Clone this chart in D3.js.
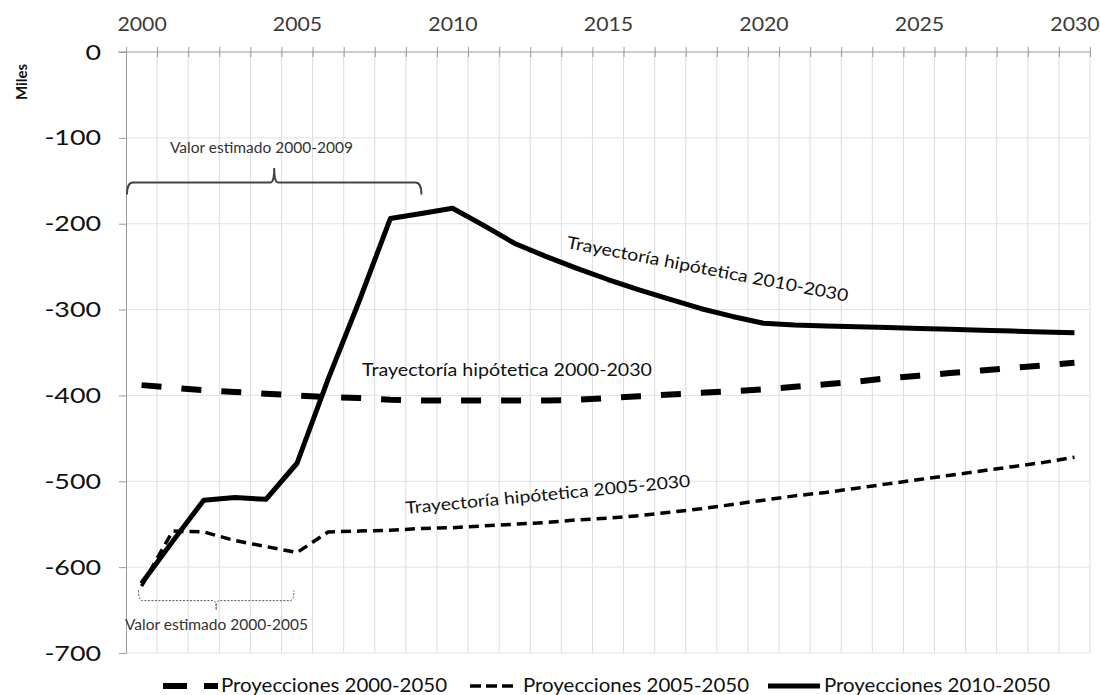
<!DOCTYPE html>
<html><head><meta charset="utf-8">
<script src="https://cdn.jsdelivr.net/npm/d3@7"></script>
<style>
body{margin:0;background:#fff}
svg{display:block}
text{font-family:Lato,"Open Sans",sans-serif}
</style>
</head><body>
<svg id="c" width="1100" height="695"></svg>
<script>
const years = [2000,2001,2002,2003,2004,2005,2006,2007,2008,2009,2010,2011,2012,2013,2014,2015,
  2016,2017,2018,2019,2020,2021,2022,2023,2024,2025,2026,2027,2028,2029,2030];
const yearLabels = [2000,2005,2010,2015,2020,2025,2030];
const yTicks = [0,-100,-200,-300,-400,-500,-600,-700];

const proy2000 = [-388,-391,-394,-396,-398,-400,-402,-403,-405,-406,
  -406,-406,-406,-406,-405,-403,-401,-399,-397,-395,
  -393,-390,-387,-384,-380,-377,-374,-371,-368,-365,-362];
const proy2005 = [-622,-558,-559,-569,-576,-583,-559,-558,-557,-555,
  -554,-552,-550,-548,-545,-543,-540,-536,-532,-527,
  -522,-517,-513,-508,-503,-498,-493,-488,-483,-478,-472];
const proy2010 = [-619,-570,-522,-519,-521,-479,-381,-290,-194,-188,
  -182,-202,-223,-238,-252,-265,-277,-288,-299,-308,
  -316,-318,-319,-320,-321,-322,-323,-324,-325,-326,-327];

const seriesNames = ["Proyecciones 2000-2050","Proyecciones 2005-2050","Proyecciones 2010-2050"];

const svg = d3.select("#c");
const L = 126, R = 1090, T = 52, B = 653;

const x = d3.scaleLinear().domain([1999.5, 2030.5]).range([L, R]);
const y = d3.scaleLinear().domain([-700, 0]).range([B, T]);
const boundaries = years.map(v => v - 0.5).concat([2030.5]);

// gridlines
svg.append("g").selectAll("line").data(boundaries.slice(1)).join("line")
  .attr("x1", d => x(d)).attr("x2", d => x(d)).attr("y1", T).attr("y2", B)
  .attr("stroke", "#dcdcdc").attr("stroke-width", 1);
svg.append("g").selectAll("line").data(yTicks.slice(1)).join("line")
  .attr("x1", L).attr("x2", R).attr("y1", d => y(d)).attr("y2", d => y(d))
  .attr("stroke", "#e2e2e2").attr("stroke-width", 1);

// top axis (ticks at category boundaries, crossing)
const topAxis = svg.append("g").attr("transform", `translate(0,${T})`)
  .call(d3.axisTop(x).tickValues(boundaries).tickFormat("").tickSizeInner(5).tickSizeOuter(0));
topAxis.select(".domain").attr("stroke", "#9a9a9a").attr("d", `M${L - 8},0H${R}`);
topAxis.selectAll(".tick line").attr("y1", 5).attr("y2", -5).attr("stroke", "#9a9a9a");

const topLabels = svg.append("g").attr("transform", `translate(0,${T})`)
  .call(d3.axisTop(x).tickValues(yearLabels).tickFormat(d3.format("d")).tickSize(0).tickPadding(21));
topLabels.select(".domain").remove();
topLabels.selectAll("text").attr("font-family", "Lato").attr("font-size", 19).attr("fill", "#3a3a3a")
  .attr("y", null).attr("transform", "translate(0,-21) scale(1.12,1)");

// left axis
const leftAxis = svg.append("g").attr("transform", `translate(${L},0)`)
  .call(d3.axisLeft(y).tickValues(yTicks).tickFormat(d3.format("d")).tickSizeInner(7).tickSizeOuter(0).tickPadding(19));
leftAxis.select(".domain").attr("stroke", "#9a9a9a");
leftAxis.selectAll(".tick line").attr("stroke", "#9a9a9a");
leftAxis.selectAll("text").attr("font-family", "Lato").attr("font-size", 22).attr("fill", "#111")
  .attr("x", null).attr("transform", "translate(-25,0) scale(1.22,1)")
  .text(d => d < 0 ? "-" + Math.abs(d) : d);

svg.append("text").attr("transform", "translate(27,82) rotate(-90)")
  .attr("text-anchor", "middle").attr("font-size", 15).attr("font-weight", "bold").attr("fill", "#111")
  .text("Miles");

// lines
const line = data => d3.line().x((d, i) => x(years[i])).y(d => y(d))(data);
svg.append("path").attr("d", line(proy2005)).attr("fill", "none").attr("stroke", "#000")
  .attr("stroke-width", 3.5).attr("stroke-dasharray", "10,6").attr("stroke-linejoin", "round");
svg.append("path").attr("d", line(proy2000)).attr("fill", "none").attr("stroke", "#000")
  .attr("stroke-width", 6).attr("stroke-dasharray", "20,20").attr("stroke-linejoin", "round");
svg.append("path").attr("d", line(proy2010)).attr("fill", "none").attr("stroke", "#000")
  .attr("stroke-width", 5).attr("stroke-linejoin", "round");

// brace annotations
const bx0 = x(1999.5) + 1, bx1 = x(2009), bxm = (bx0 + bx1) / 2;
const by = y(-152), byEnd = y(-166), byPeak = y(-135);
svg.append("path")
  .attr("d", `M${bx0},${byEnd} Q${bx0},${by} ${bx0 + 6},${by} L${bxm - 4},${by} Q${bxm},${by} ${bxm},${byPeak} Q${bxm},${by} ${bxm + 4},${by} L${bx1 - 6},${by} Q${bx1},${by} ${bx1},${byEnd}`)
  .attr("fill", "none").attr("stroke", "#444").attr("stroke-width", 2);
svg.append("text").attr("x", 170).attr("y", 153)
  .attr("font-size", 14.5).attr("fill", "#333")
  .attr("textLength", 183).attr("lengthAdjust", "spacingAndGlyphs")
  .text("Valor estimado 2000-2009");

const cx0 = x(1999.9), cx1 = x(2004.9), cxm = (cx0 + cx1) / 2;
const cy = y(-639), cyEnd = y(-627), cyTip = y(-650);
svg.append("path")
  .attr("d", `M${cx0},${cyEnd} Q${cx0},${cy} ${cx0 + 4},${cy} L${cxm - 3},${cy} Q${cxm},${cy} ${cxm},${cyTip} Q${cxm},${cy} ${cxm + 3},${cy} L${cx1 - 4},${cy} Q${cx1},${cy} ${cx1},${cyEnd}`)
  .attr("fill", "none").attr("stroke", "#555").attr("stroke-width", 1).attr("stroke-dasharray", "2,1.5");
svg.append("text").attr("x", 125).attr("y", 630)
  .attr("font-size", 14.5).attr("fill", "#333")
  .attr("textLength", 183).attr("lengthAdjust", "spacingAndGlyphs")
  .text("Valor estimado 2000-2005");

// trajectory labels
const trajLabels = [
  {t: "Trayectoría hipótetica  2010-2030", tr: "translate(566,248) rotate(10.8)", len: 286},
  {t: "Trayectoría hipótetica  2000-2030", tr: "translate(362,376)", len: 290},
  {t: "Trayectoría hipótetica  2005-2030", tr: "translate(406,514) rotate(-5.5)", len: 286}
];
trajLabels.forEach(d => {
  svg.append("text").attr("transform", d.tr).attr("font-size", 17).attr("fill", "#111")
    .attr("textLength", d.len).attr("lengthAdjust", "spacingAndGlyphs").text(d.t);
});

// legend
const legend = [
  {name: seriesNames[0], x0: 163, x1: 218, w: 6, dash: "24,17", tx: 221},
  {name: seriesNames[1], x0: 470, x1: 515, w: 3.5, dash: "11,5", tx: 523},
  {name: seriesNames[2], x0: 768, x1: 820, w: 5, dash: null, tx: 824}
];
const lg = svg.append("g");
legend.forEach(d => {
  lg.append("line").attr("x1", d.x0).attr("x2", d.x1).attr("y1", 686).attr("y2", 686)
    .attr("stroke", "#000").attr("stroke-width", d.w).attr("stroke-dasharray", d.dash);
  lg.append("text").attr("x", d.tx).attr("y", 692).attr("font-size", 20).attr("fill", "#111")
    .attr("textLength", 226).attr("lengthAdjust", "spacingAndGlyphs").text(d.name);
});
</script>
</body></html>
